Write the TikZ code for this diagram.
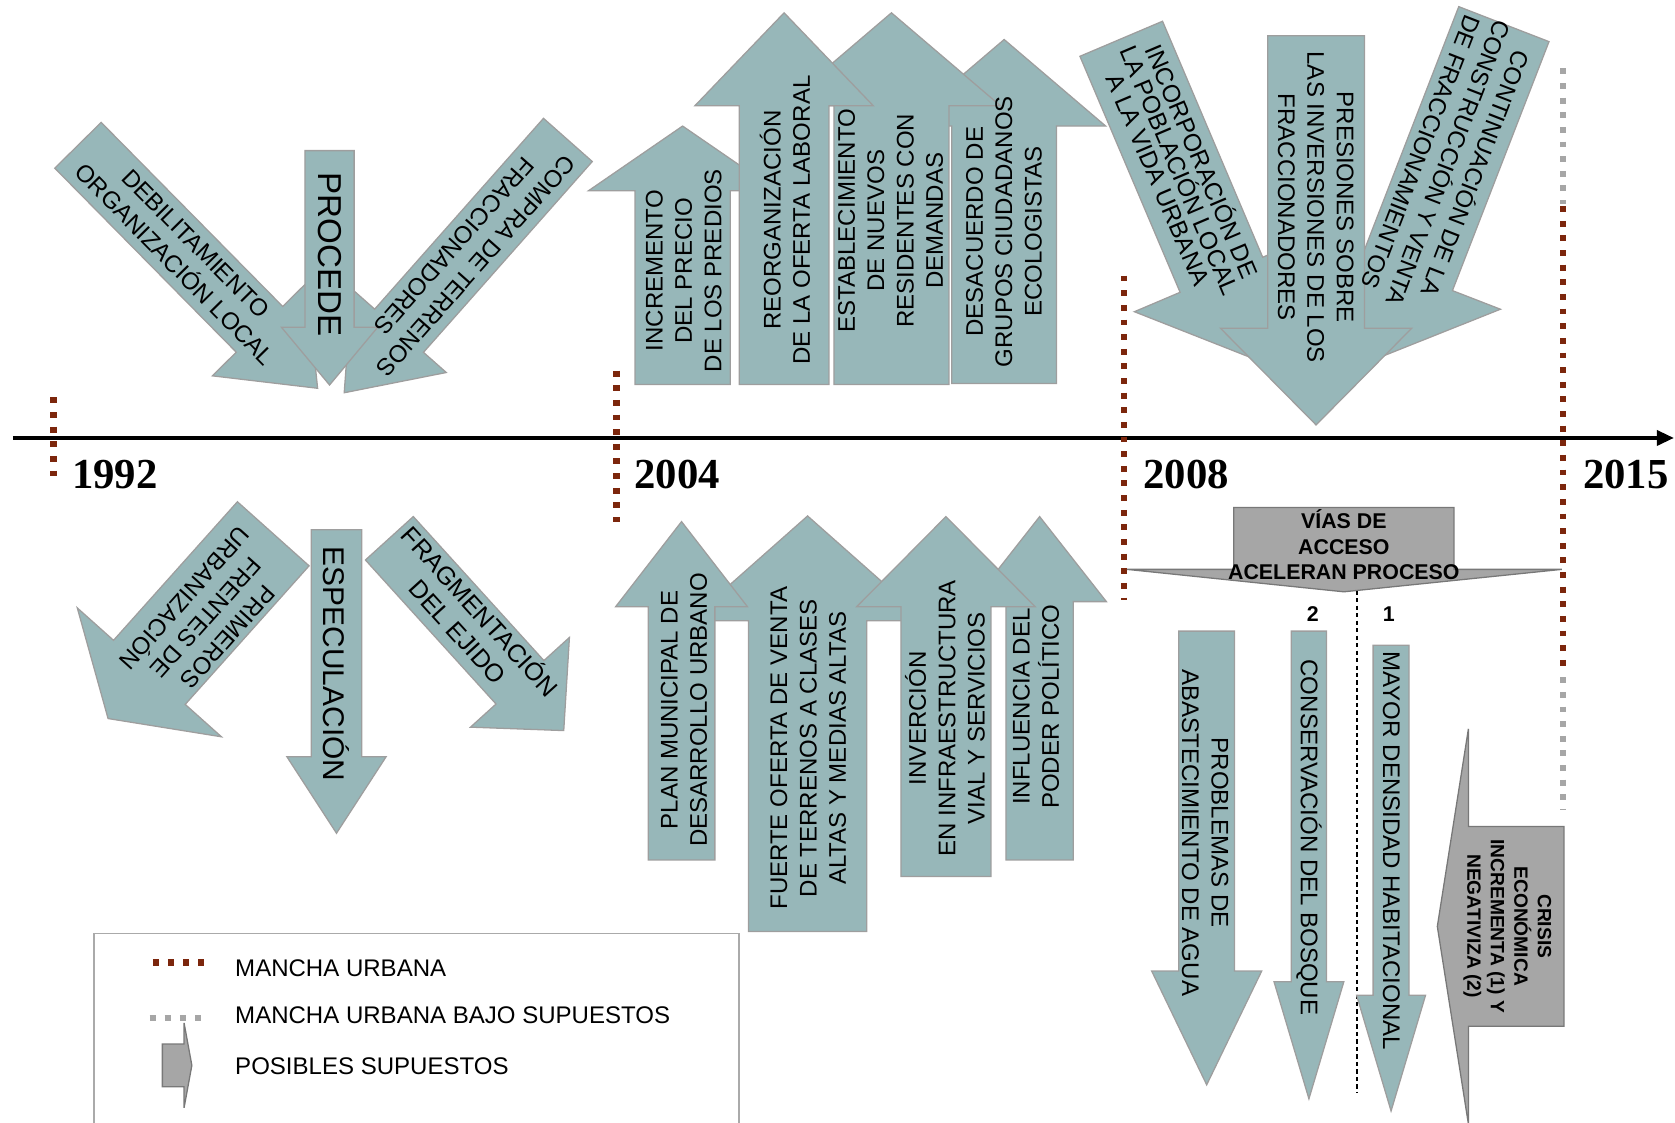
\documentclass[tikz,border=0pt]{standalone}
\usepackage{fontspec}
\usepackage{graphicx}
\setmainfont{Liberation Sans}
\newfontfamily\yearfont{Liberation Serif}
\usetikzlibrary{arrows.meta}

\definecolor{arrowfill}{RGB}{151,183,185}
\definecolor{arrowline}{RGB}{158,158,158}
\definecolor{manchared}{RGB}{124,38,12}
\definecolor{manchagray}{RGB}{166,166,166}
\definecolor{supfill}{RGB}{166,166,166}
\definecolor{supline}{RGB}{120,120,120}
\definecolor{legline}{RGB}{170,170,170}

\newcommand\fsz[2]{\fontsize{#1}{#2}\selectfont}

% block arrow: [style] {x}{y}{direction}{length}{body width}{head width}{head length}
\newcommand\blockarrow[8][arrowbox]{%
  \begin{scope}[shift={(#2,#3)},rotate={-(#4)}]
    \path[#1] (0,{-(#6)/2}) -- ({#5-#8},{-(#6)/2}) -- ({#5-#8},{-(#7)/2}) -- (#5,0)
      -- ({#5-#8},{(#7)/2}) -- ({#5-#8},{(#6)/2}) -- (0,{(#6)/2}) -- cycle;
  \end{scope}}

\begin{document}
\begin{tikzpicture}[x=1pt,y=-1pt,
  arrowbox/.style={fill=arrowfill,draw=arrowline,line width=1.2pt},
  supuesto/.style={fill=supfill,draw=supline,line width=1.2pt},
  lbl/.style={align=center,inner sep=0pt,font=\fsz{22.5}{27.5}},
  boldlbl/.style={align=center,inner sep=0pt,font=\fsz{20}{24}\bfseries},
  yearlbl/.style={inner sep=0pt,font=\yearfont\bfseries\fsz{40}{40}},
  legtext/.style={anchor=west,inner sep=0pt,font=\fsz{22.5}{27}},
  urbana/.style={draw=manchared,line width=6pt,dash pattern=on 5.5pt off 8.2pt},
  urbanasup/.style={draw=manchagray,line width=6pt,dash pattern=on 5.5pt off 8.2pt},
  timeline/.style={draw=black,line width=3.5pt,-{Triangle[length=16pt,width=14pt]}},
  sepline/.style={draw=black,line width=2pt,dash pattern=on 4pt off 3pt},
  legendbox/.style={draw=legline,line width=1.5pt}
]
\useasboundingbox (0,0) rectangle (1568,1051);

% ---- time axis ----
\coordinate (t0) at (12,410);
\coordinate (t1) at (1567,410);
\draw[timeline] (t0) -- (t1);
\node[yearlbl] (y1992) at (107.5,444) {1992};
\node[yearlbl] (y2004) at (634,444) {2004};
\node[yearlbl] (y2008) at (1110.5,444) {2008};
\node[yearlbl] (y2015) at (1522,444) {2015};

% ---- urban spread markers ----
\coordinate (m1a) at (50,372);   \coordinate (m1b) at (50,448);
\coordinate (m2a) at (577,347);  \coordinate (m2b) at (577,489);
\coordinate (m3a) at (1052,258); \coordinate (m3b) at (1052,562);
\coordinate (m4a) at (1463,64);  \coordinate (m4b) at (1463,191);
\coordinate (m4c) at (1463,193); \coordinate (m4d) at (1463,630);
\coordinate (m4e) at (1463,634); \coordinate (m4f) at (1463,758);
\draw[urbana] (m1a) -- (m1b);
\draw[urbana] (m2a) -- (m2b);
\draw[urbana] (m3a) -- (m3b);
\draw[urbanasup] (m4a) -- (m4b);
\draw[urbana] (m4c) -- (m4d);
\draw[urbanasup] (m4e) -- (m4f);

% ---- 1992, above the axis ----
\blockarrow{73}{136}{45.4}{319.5}{61}{124}{77.5}
\blockarrow{531.6}{131}{131.5}{316}{61}{118}{77.5}
\blockarrow{308.5}{141}{90}{219.4}{46}{90}{54}
\node[lbl,rotate=-45.4] (debil) at (173.4,237.8) {DEBILITAMIENTO\\ORGANIZACIÓN LOCAL};
\node[lbl,rotate=-131.5] (compra) at (435.5,239.6) {COMPRA DE TERRENOS\\FRACCIONADORES};
\node[inner sep=0pt,font=\fsz{31}{31},rotate=-90] (procede) at (308.5,238) {PROCEDE};

% ---- 1992, below the axis ----
\blockarrow{255.8}{499.7}{131.8}{232}{90}{181}{58}
\blockarrow{315}{496}{90}{284}{47.4}{93}{71.7}
\blockarrow{364.5}{503.9}{47.8}{243}{60.5}{125}{61}
\node[lbl,rotate=-131.8] (primeros) at (193,578) {PRIMEROS\\FRENTES DE\\URBANIZACIÓN};
\node[inner sep=0pt,font=\fsz{28}{28},rotate=-90] (especul) at (315.2,621.7) {ESPECULACIÓN};
\node[lbl,rotate=-47.8,font=\fsz{23.5}{28}] (fragm) at (440,581) {FRAGMENTACIÓN\\DEL EJIDO};

% ---- 2004, above the axis ----
\blockarrow{940}{359}{-90}{322}{98}{190}{81}
\blockarrow{834.5}{360}{-90}{348}{107.6}{204}{87}
\blockarrow{639}{360}{-90}{242}{89}{176}{60.5}
\blockarrow{734}{360}{-90}{348}{84}{167}{87}
\node[lbl,rotate=90] (precio) at (640,253.4) {INCREMENTO\\DEL PRECIO\\DE LOS PREDIOS};
\node[lbl,rotate=90] (reorg) at (734.8,206) {REORGANIZACIÓN\\DE LA OFERTA LABORAL};
\node[lbl,rotate=90] (resid) at (833.7,206.6) {ESTABLECIMIENTO\\DE NUEVOS\\RESIDENTES CON\\DEMANDAS};
\node[lbl,rotate=90] (desac) at (939.8,216.9) {DESACUERDO DE\\GRUPOS CIUDADANOS\\ECOLOGISTAS};

% ---- 2004, below the axis ----
\blockarrow{756}{872}{-90}{389}{110.8}{221.5}{98}
\blockarrow{973.2}{805}{-90}{321.4}{63}{125}{79.6}
\blockarrow{885.5}{820.6}{-90}{337}{84.2}{167}{84.3}
\blockarrow{638}{805}{-90}{316.7}{62.4}{123.3}{79.6}
\node[lbl,rotate=90] (plan) at (640.3,664.6) {PLAN MUNICIPAL DE\\DESARROLLO URBANO};
\node[lbl,rotate=90] (oferta) at (756.6,700.5) {FUERTE OFERTA DE VENTA\\DE TERRENOS A CLASES\\ALTAS Y MEDIAS ALTAS};
\node[lbl,rotate=90] (infra) at (884.6,672.4) {INVERCIÓN\\EN INFRAESTRUCTURA\\VIAL Y SERVICIOS};
\node[lbl,rotate=90] (poder) at (969.8,661.5) {INFLUENCIA DEL\\PODER POLÍTICO};

% ---- 2008, above the axis ----
\blockarrow{1049.6}{36.3}{67}{327}{84}{177}{87}
\blockarrow{1407.8}{22.6}{111.2}{337}{90.6}{187}{87}
\blockarrow{1232}{33.4}{90}{364.4}{90.6}{179}{90.5}
\node[lbl,rotate=-67,font=\fsz{23}{22}] (incorp) at (1106,159) {INCORPORACIÓN DE\\LA POBLACIÓN LOCAL\\A LA VIDA URBANA};
\node[lbl,rotate=-90] (presion) at (1231.6,194) {PRESIONES SOBRE\\LAS INVERSIONES DE LOS\\FRACCIONADORES};
\node[lbl,rotate=-111.2] (contin) at (1357.2,153.1) {CONTINUACIÓN DE LA\\CONSTRUCCIÓN Y VENTA\\DE FRACCIONAMIENTOS};

% ---- 2008, below the axis ----
\path[supuesto] (1155,533) -- (1155,475) -- (1361,475) -- (1361,533) -- (1462,533)
  -- (1258,554) -- (1055,533) -- cycle;
\node[boldlbl] (vias) at (1258,510) {VÍAS DE\\ACCESO\\ACELERAN PROCESO};
\coordinate (s0) at (1270,553);
\coordinate (s1) at (1270,1023);
\draw[sepline] (s0) -- (s1);
\node[boldlbl] (esc2) at (1229,575) {2};
\node[boldlbl] (esc1) at (1300,575) {1};

\blockarrow{1129.6}{590.8}{90}{424.7}{52.2}{103}{106.5}
\blockarrow{1225.3}{590.8}{90}{437.8}{33}{65.3}{109.5}
\blockarrow{1302.2}{604}{90}{436}{33.6}{64.6}{108.4}
\blockarrow[supuesto]{1464}{867.25}{180}{118.5}{187}{370}{29.1}
\node[lbl,rotate=-90] (agua) at (1128.2,779.5) {PROBLEMAS DE\\ABASTECIMIENTO DE AGUA};
\node[lbl,rotate=-90] (bosque) at (1225.3,784) {CONSERVACIÓN DEL BOSQUE};
\node[lbl,rotate=-90] (densidad) at (1302.5,796.5) {MAYOR DENSIDAD HABITACIONAL};
\node[align=center,inner sep=0pt,font=\fsz{18}{22}\bfseries,rotate=-90] (crisis) at (1411,867) {CRISIS\\ECONÓMICA\\INCREMENTA (1) Y\\NEGATIVIZA (2)};

% ---- legend ----
\draw[legendbox] (88,874) rectangle (692,1080);
\coordinate (l1a) at (143,901); \coordinate (l1b) at (193,901);
\coordinate (l2a) at (140,953); \coordinate (l2b) at (190,953);
\draw[urbana,line width=5.7pt,dash pattern=on 5.7pt off 8.5pt] (l1a) -- (l1b);
\draw[urbanasup,line width=5.7pt,dash pattern=on 5.7pt off 8.5pt] (l2a) -- (l2b);
\blockarrow[supuesto]{152}{997.3}{0}{27.6}{40}{79.6}{7.3}
\node[legtext] (leg1) at (220,906) {MANCHA URBANA};
\node[legtext] (leg2) at (220,950) {MANCHA URBANA BAJO SUPUESTOS};
\node[legtext] (leg3) at (220,998.5) {POSIBLES SUPUESTOS};
\end{tikzpicture}
\end{document}
